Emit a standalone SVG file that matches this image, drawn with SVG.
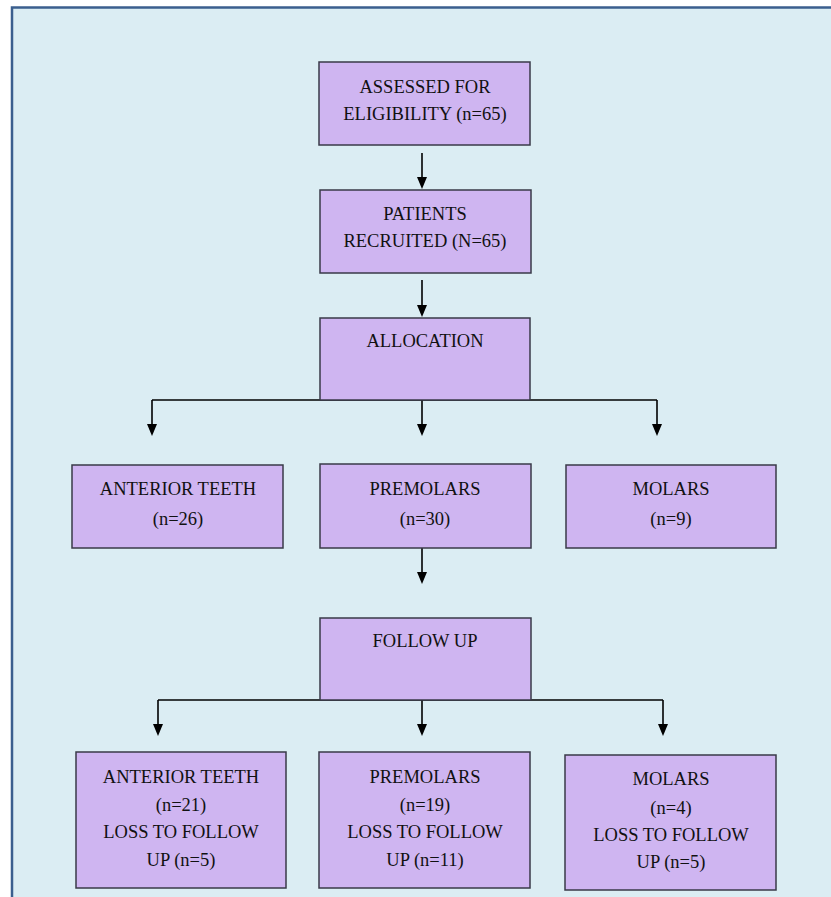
<svg xmlns="http://www.w3.org/2000/svg" width="831" height="897" viewBox="0 0 831 897">
<style>
.bg{fill:#dbedf3;stroke:#3b5f8e;stroke-width:2.5}
.box{fill:#cfb5f1;stroke:#3a3a48;stroke-width:1.5}
.t{font-family:"Liberation Serif","Times New Roman",serif;font-size:18.5px;fill:#111;text-anchor:middle}
.ln{fill:none;stroke:#000;stroke-width:1.6}
.ah{fill:#000}
</style>
<rect class="bg" x="12" y="7.5" width="830" height="900"/>
<g id="connectors">
<path class="ln" d="M422,153 V178"/>
<path class="ln" d="M422,280 V306"/>
<path class="ln" d="M152,400 H657"/>
<path class="ln" d="M152,400 V425"/>
<path class="ln" d="M422,400 V425"/>
<path class="ln" d="M657,400 V425"/>
<path class="ln" d="M422,548 V573"/>
<path class="ln" d="M158,700 H663"/>
<path class="ln" d="M158,700 V725"/>
<path class="ln" d="M422,700 V725"/>
<path class="ln" d="M663,700 V725"/>
<path class="ah" d="M417,177 L427,177 L422,189 Z"/>
<path class="ah" d="M417,305 L427,305 L422,317 Z"/>
<path class="ah" d="M147,424 L157,424 L152,436 Z"/>
<path class="ah" d="M417,424 L427,424 L422,436 Z"/>
<path class="ah" d="M652,424 L662,424 L657,436 Z"/>
<path class="ah" d="M417,572 L427,572 L422,584 Z"/>
<path class="ah" d="M153,724 L163,724 L158,736 Z"/>
<path class="ah" d="M417,724 L427,724 L422,736 Z"/>
<path class="ah" d="M658,724 L668,724 L663,736 Z"/>
</g>
<g id="assessed">
<rect class="box" x="319" y="62" width="211" height="83"/>
<text class="t" x="425" y="93">ASSESSED FOR</text>
<text class="t" x="425" y="120">ELIGIBILITY (n=65)</text>
</g>
<g id="recruited">
<rect class="box" x="320" y="190" width="211" height="83"/>
<text class="t" x="425" y="220">PATIENTS</text>
<text class="t" x="425" y="247">RECRUITED (N=65)</text>
</g>
<g id="allocation">
<rect class="box" x="320" y="318" width="210" height="82"/>
<text class="t" x="425" y="347">ALLOCATION</text>
</g>
<g id="anterior1">
<rect class="box" x="72" y="465" width="211" height="83"/>
<text class="t" x="178" y="495">ANTERIOR TEETH</text>
<text class="t" x="178" y="525">(n=26)</text>
</g>
<g id="premolars1">
<rect class="box" x="320" y="464" width="211" height="84"/>
<text class="t" x="425" y="495">PREMOLARS</text>
<text class="t" x="425" y="525">(n=30)</text>
</g>
<g id="molars1">
<rect class="box" x="566" y="465" width="210" height="83"/>
<text class="t" x="671" y="495">MOLARS</text>
<text class="t" x="671" y="525">(n=9)</text>
</g>
<g id="followup">
<rect class="box" x="320" y="618" width="211" height="82"/>
<text class="t" x="425" y="647">FOLLOW UP</text>
</g>
<g id="anterior2">
<rect class="box" x="76" y="752" width="210" height="136"/>
<text class="t" x="181" y="783">ANTERIOR TEETH</text>
<text class="t" x="181" y="811">(n=21)</text>
<text class="t" x="181" y="838">LOSS TO FOLLOW</text>
<text class="t" x="181" y="866">UP (n=5)</text>
</g>
<g id="premolars2">
<rect class="box" x="319" y="752" width="211" height="136"/>
<text class="t" x="425" y="783">PREMOLARS</text>
<text class="t" x="425" y="811">(n=19)</text>
<text class="t" x="425" y="838">LOSS TO FOLLOW</text>
<text class="t" x="425" y="866">UP (n=11)</text>
</g>
<g id="molars2">
<rect class="box" x="565" y="755" width="211" height="135"/>
<text class="t" x="671" y="785">MOLARS</text>
<text class="t" x="671" y="814">(n=4)</text>
<text class="t" x="671" y="841">LOSS TO FOLLOW</text>
<text class="t" x="671" y="868">UP (n=5)</text>
</g>
</svg>
